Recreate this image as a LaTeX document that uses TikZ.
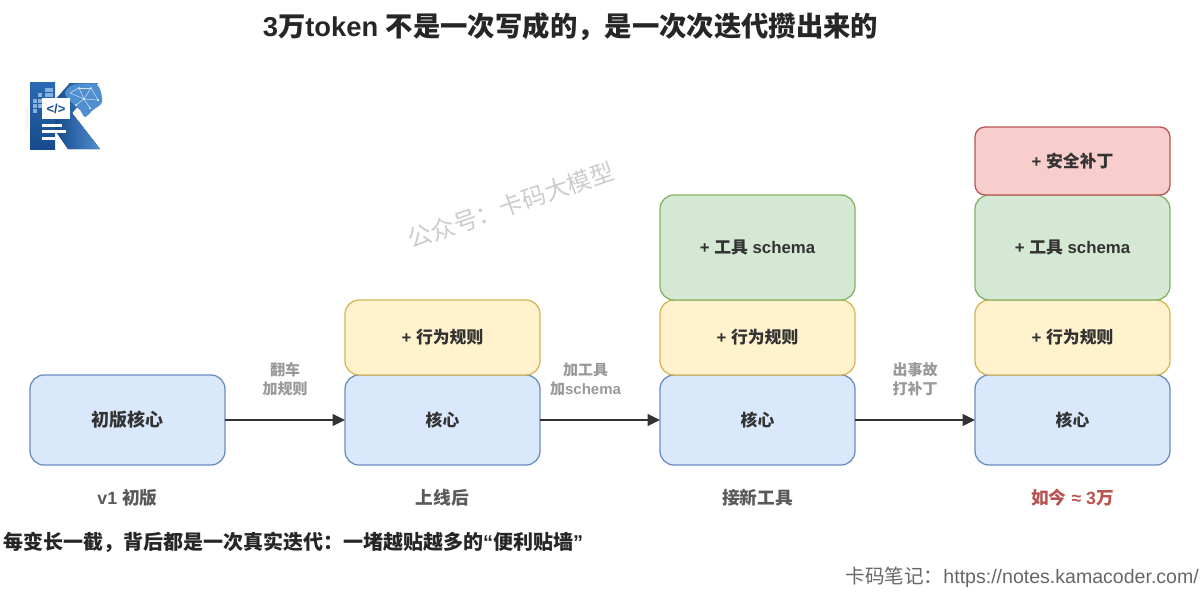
\documentclass[tikz,border=0pt]{standalone}
\usepackage{fontspec}
\setmainfont{Liberation Sans}
\newfontfamily\cjkfont{Noto Sans CJK SC}
\newcommand{\zh}[1]{{\cjkfont #1}}
\usetikzlibrary{positioning,arrows.meta}

\definecolor{bluefill}{HTML}{DAE8FC}
\definecolor{blueline}{HTML}{6C8EBF}
\definecolor{yellowfill}{HTML}{FFF2CC}
\definecolor{yellowline}{HTML}{D6B656}
\definecolor{greenfill}{HTML}{D5E8D4}
\definecolor{greenline}{HTML}{82B366}
\definecolor{redfill}{HTML}{F8CECC}
\definecolor{redline}{HTML}{B85450}
\definecolor{logoblue}{HTML}{2A6AB5}
\definecolor{logodark}{HTML}{174A8C}
\definecolor{logolight}{HTML}{4F8FD0}

\tikzset{
  block/.style={draw, rounded corners=14pt, line width=1.3pt, minimum width=195pt,
    text=black!80, font=\bfseries\fontsize{16.8}{19}\selectfont, inner sep=0pt, outer sep=0pt},
  stage/.style={font=\bfseries\fontsize{17.7}{20}\selectfont, text=black!65},
  edgelabel/.style={align=center, font=\bfseries\fontsize{15}{19}\selectfont, text=black!40},
  step arrow/.style={draw=black!80, line width=1.5pt, -{Triangle[length=12.5pt,width=12pt]}},
}

\begin{document}
\begin{tikzpicture}[x=1pt, y=-1pt]
  \useasboundingbox (0,0) rectangle (1202,595);

  \node[font=\bfseries\fontsize{27.35}{30}\selectfont, text=black!85] (title) at (570.5,27)
    {3\zh{万}token \zh{不是一次写成的，是一次次迭代攒出来的}};

  % logo
  \fill[top color=logoblue, bottom color=logodark] (30,82) rectangle (55,149);
  \fill[left color=logodark, right color=logolight] (57,98) -- (70,83) -- (98,83) -- (72,113) -- (100,149) -- (68,149) -- (55,130) -- cycle;
  \fill[logolight] plot[smooth cycle] coordinates {(65,93) (73,85) (97,85) (102,102) (93,110) (85,117) (80,110) (72,103)};
  \fill[logodark!5] (25,108) rectangle (28,130);
  \foreach \px/\py in {33/99, 33/104, 33/109, 38/93, 38/99, 38/104, 45/88, 49/88, 45/93, 49/93} {
    \fill[logolight!70!white] (\px,\py) rectangle ++(4,4);
  }
  \foreach \ax/\ay/\bx/\by in {70/93/79/88, 79/88/91/88, 91/88/98/100, 70/93/84/99, 84/99/98/100, 79/88/84/99, 84/99/76/105, 84/99/90/108, 91/88/84/99} {
    \draw[white!75!logolight, line width=0.5pt] (\ax,\ay) -- (\bx,\by);
    \fill[white!90!logolight] (\bx,\by) circle (1);
  }
  \fill[white] (42,98) rectangle (70,119);
  \node[text=logodark, font=\bfseries\fontsize{13}{13}\selectfont, inner sep=0pt] (code) at (56,109) {</>};
  \foreach \ly/\lx in {124/62, 130/66, 137/55} {
    \fill[white] (42,\ly) rectangle (\lx,\ly+2.5);
  }

  \node[font=\fontsize{24}{30}\selectfont, text=black!20, rotate=19] (mark) at (511,205)
    {\zh{公众号：卡码大模型}};

  % core row
  \node[block, fill=bluefill, draw=blueline, minimum height=90pt, font=\bfseries\fontsize{18}{20}\selectfont] (core1) at (127.5,420) {\zh{初版核心}};
  \node[block, fill=bluefill, draw=blueline, minimum height=90pt, right=120pt of core1] (core2) {\zh{核心}};
  \node[block, fill=bluefill, draw=blueline, minimum height=90pt, right=120pt of core2] (core3) {\zh{核心}};
  \node[block, fill=bluefill, draw=blueline, minimum height=90pt, right=120pt of core3] (core4) {\zh{核心}};

  % stacked layers
  \node[block, fill=yellowfill, draw=yellowline, minimum height=75pt, above=0pt of core2] (rule2) {+ \zh{行为规则}};
  \node[block, fill=yellowfill, draw=yellowline, minimum height=75pt, above=0pt of core3] (rule3) {+ \zh{行为规则}};
  \node[block, fill=yellowfill, draw=yellowline, minimum height=75pt, above=0pt of core4] (rule4) {+ \zh{行为规则}};
  \node[block, fill=greenfill, draw=greenline, minimum height=105pt, above=0pt of rule3] (tool3) {+ \zh{工具} schema};
  \node[block, fill=greenfill, draw=greenline, minimum height=105pt, above=0pt of rule4] (tool4) {+ \zh{工具} schema};
  \node[block, rounded corners=10pt, fill=redfill, draw=redline, minimum height=68pt, above=0pt of tool4] (safe4) {+ \zh{安全补丁}};

  \draw[step arrow] (core1) -- node[edgelabel, above=19.5pt, midway] (edge1) {\zh{翻车}\\\zh{加规则}} (core2);
  \draw[step arrow] (core2) -- node[edgelabel, above=19.5pt, midway, xshift=-14.5pt] (edge2) {\zh{加工具}\\\zh{加}schema} (core3);
  \draw[step arrow] (core3) -- node[edgelabel, above=19.5pt, midway] (edge3) {\zh{出事故}\\\zh{打补丁}} (core4);

  \node[stage, below=21pt of core1] (stage1) {v1 \zh{初版}};
  \node[stage, below=21pt of core2] (stage2) {\zh{上线后}};
  \node[stage, below=21pt of core3] (stage3) {\zh{接新工具}};
  \node[stage, below=21pt of core4, text=redline] (stage4) {\zh{如今} ≈ 3\zh{万}};

  \node[font=\bfseries\fontsize{20}{22}\selectfont, text=black!85, anchor=west, inner sep=0pt] (note) at (3,542)
    {\zh{每变长一截，背后都是一次真实迭代：一堵越贴越多的}“\zh{便利贴墙}”};
  \node[font=\fontsize{19.55}{22}\selectfont, text=black!60, anchor=east, inner sep=0pt] (site) at (1199,577)
    {\zh{卡码笔记：}https://notes.kamacoder.com/};
\end{tikzpicture}
\end{document}
